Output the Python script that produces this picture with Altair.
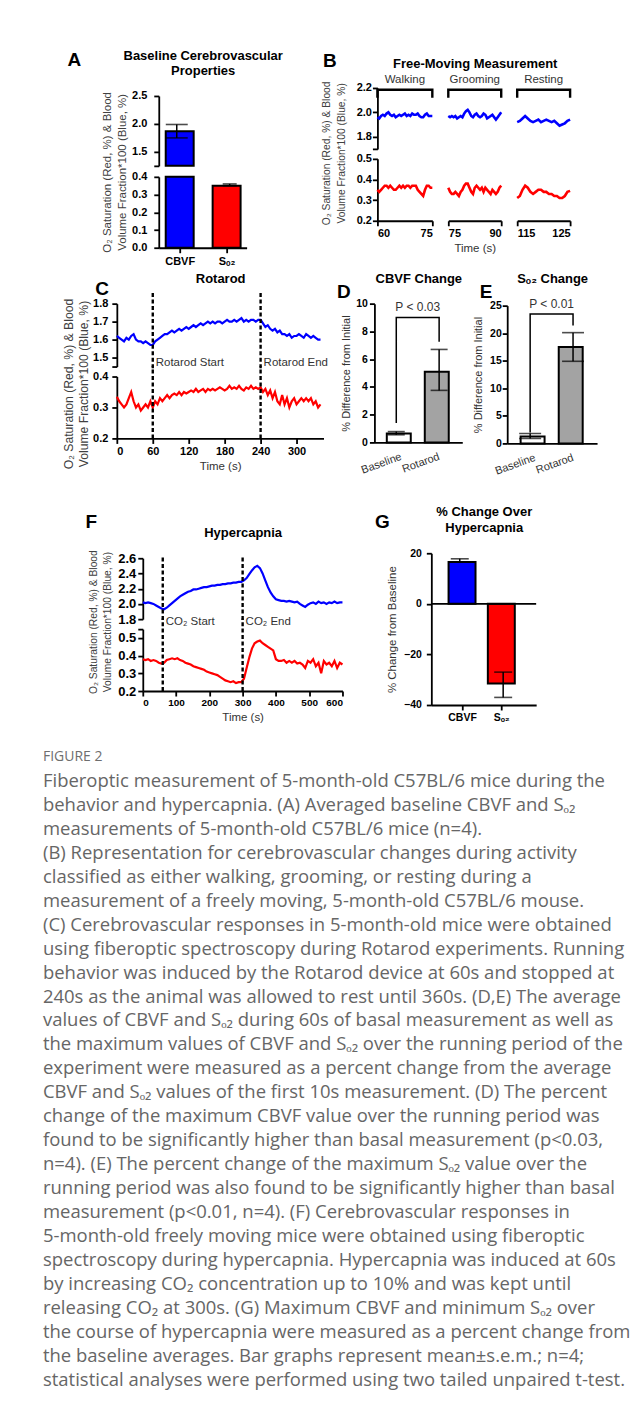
import json
import altair as alt
import pandas as pd

FONT = "Liberation Sans"
CAP_FONT = "Open Sans"
BLUE = "#0000ff"
RED = "#ff0000"
INK = "#000000"
TXT = "#333333"
GREY_BAR = "#a3a3a3"

Y_TITLE = ["O₂ Saturation  (Red, %) & Blood", "Volume  Fraction*100 (Blue, %)"]

# ---------------- Panel A : baseline bars (broken axis)
A_LABELS = ["CBVF", "Sₒ₂"]
A_MEAN = [1.87, 0.35]
A_LO = [1.75, 0.35]
A_HI = [1.99, 0.36]
A_FILL = [BLUE, RED]

# ---------------- Panel B : free-moving traces
B_NAMES = ["Walking", "Grooming", "Resting"]
B_START = [60, 75, 115]
B_END = [75, 90, 125]
B_BLUE = [
    [1.96, 1.95, 1.97, 1.98, 1.97, 1.99, 2.00, 1.98, 1.97, 1.98, 1.96, 1.97, 1.98, 1.97, 1.98, 1.99,
     1.97, 1.98, 1.97, 1.99, 1.98, 1.98, 1.99, 1.97, 1.96, 1.96, 1.98, 1.99, 1.97, 1.97, 1.97],
    [1.97, 1.96, 1.97, 1.96, 1.97, 1.95, 1.96, 1.97, 1.96, 1.99, 2.01, 2.02, 2.00, 1.97, 1.96, 1.98,
     1.99, 1.97, 1.96, 1.97, 1.99, 1.98, 1.95, 1.96, 1.97, 1.98, 1.96, 1.94, 1.96, 1.98, 2.00],
    [1.92, 1.93, 1.95, 1.97, 1.95, 1.93, 1.92, 1.93, 1.94, 1.92, 1.93, 1.94, 1.93, 1.92, 1.93, 1.91,
     1.89, 1.90, 1.91, 1.93, 1.94],
]
B_RED = [
    [0.35, 0.34, 0.35, 0.36, 0.37, 0.37, 0.36, 0.37, 0.36, 0.35, 0.35, 0.36, 0.37, 0.36, 0.37, 0.36,
     0.37, 0.37, 0.36, 0.37, 0.37, 0.37, 0.35, 0.34, 0.33, 0.32, 0.35, 0.37, 0.37, 0.36, 0.36],
    [0.36, 0.34, 0.33, 0.33, 0.34, 0.33, 0.32, 0.34, 0.35, 0.37, 0.38, 0.38, 0.36, 0.34, 0.33, 0.36,
     0.37, 0.36, 0.35, 0.36, 0.34, 0.36, 0.35, 0.34, 0.33, 0.35, 0.34, 0.33, 0.34, 0.36, 0.37],
    [0.31, 0.32, 0.35, 0.37, 0.36, 0.34, 0.33, 0.34, 0.35, 0.35, 0.34, 0.34, 0.33, 0.33, 0.32, 0.32,
     0.31, 0.31, 0.32, 0.34, 0.345],
]
B_TIMES = [[s + 0.5 * k for k in range(int((e - s) * 2) + 1)] for s, e in zip(B_START, B_END)]

# ---------------- Panel C : rotarod traces
C_TIME = list(range(0, 344, 4))
C_BLUE = [
    1.62, 1.61, 1.60, 1.59, 1.61, 1.60, 1.62, 1.63, 1.60, 1.59,
    1.59, 1.58, 1.59, 1.58, 1.57, 1.57, 1.59, 1.60, 1.61, 1.62,
    1.63, 1.63, 1.64, 1.65, 1.64, 1.65, 1.66, 1.65, 1.66, 1.67,
    1.66, 1.67, 1.68, 1.67, 1.68, 1.69, 1.68, 1.69, 1.70, 1.69,
    1.70, 1.69, 1.70, 1.70, 1.69, 1.70, 1.71, 1.70, 1.70, 1.71,
    1.70, 1.71, 1.72, 1.70, 1.71, 1.70, 1.71, 1.71, 1.70, 1.71,
    1.71, 1.69, 1.67, 1.68, 1.66, 1.65, 1.66, 1.64, 1.65, 1.63,
    1.63, 1.62, 1.63, 1.61, 1.62, 1.62, 1.63, 1.62, 1.61, 1.63,
    1.62, 1.61, 1.62, 1.61, 1.60, 1.60,
]
C_RED = [
    0.335, 0.32, 0.31, 0.30, 0.31, 0.33, 0.35, 0.32, 0.30, 0.31,
    0.29, 0.30, 0.31, 0.30, 0.32, 0.30, 0.32, 0.31, 0.33, 0.32,
    0.33, 0.34, 0.33, 0.34, 0.345, 0.34, 0.35, 0.34, 0.35, 0.345,
    0.35, 0.355, 0.35, 0.36, 0.35, 0.355, 0.36, 0.35, 0.36, 0.355,
    0.36, 0.355, 0.36, 0.365, 0.36, 0.355, 0.36, 0.37, 0.36, 0.365,
    0.36, 0.37, 0.36, 0.355, 0.365, 0.36, 0.37, 0.36, 0.365, 0.36,
    0.365, 0.35, 0.36, 0.34, 0.355, 0.33, 0.35, 0.32, 0.31, 0.34,
    0.31, 0.33, 0.30, 0.32, 0.33, 0.31, 0.32, 0.33, 0.32, 0.33,
    0.32, 0.33, 0.31, 0.32, 0.30, 0.31,
]
C_EVENTS = [60, 240]
C_EVENT_LABELS = ["Rotarod Start", "Rotarod End"]
C_XTICKS = [0, 60, 120, 180, 240, 300]

# ---------------- Panels D / E : change bars
DE_LABELS = ["Baseline", "Rotarod"]
DE_FILL = ["#ffffff", GREY_BAR]
D_MEAN = [0.65, 5.1]
D_LO = [0.55, 3.75]
D_HI = [0.78, 6.7]
D_BRACKET = [1.4, 9.0, 9.0, 7.25]
D_P = "P < 0.03"
E_MEAN = [1.27, 17.5]
E_LO = [0.9, 14.9]
E_HI = [1.8, 20.1]
E_BRACKET = [2.0, 23.5, 23.5, 21.4]
E_P = "P < 0.01"

# ---------------- Panel F : hypercapnia traces
F_TIME = list(range(0, 608, 8))
F_BLUE = [
    2.02, 2.01, 2.02, 2.01, 2.00, 1.98, 1.96, 1.94, 1.93, 1.95,
    1.98, 2.01, 2.04, 2.07, 2.10, 2.12, 2.14, 2.16, 2.17, 2.19,
    2.19, 2.20, 2.21, 2.22, 2.22, 2.23, 2.24, 2.24, 2.25, 2.25,
    2.26, 2.26, 2.27, 2.27, 2.28, 2.28, 2.29, 2.29, 2.31, 2.34,
    2.39, 2.44, 2.48, 2.50, 2.47, 2.40, 2.31, 2.22, 2.15, 2.10,
    2.06, 2.05, 2.04, 2.04, 2.03, 2.04, 2.03, 2.02, 2.03, 2.00,
    1.98, 1.96, 1.99, 2.01, 2.02, 2.00, 2.03, 2.01, 2.02, 2.00,
    2.02, 2.01, 2.03, 2.01, 2.02, 2.02,
]
F_RED = [
    0.38, 0.375, 0.38, 0.37, 0.375, 0.37, 0.36, 0.355, 0.36, 0.375,
    0.38, 0.385, 0.38, 0.385, 0.375, 0.37, 0.36, 0.355, 0.35, 0.34,
    0.335, 0.33, 0.325, 0.32, 0.31, 0.305, 0.30, 0.295, 0.29, 0.28,
    0.27, 0.26, 0.255, 0.25, 0.255, 0.245, 0.25, 0.25, 0.27, 0.33,
    0.39, 0.44, 0.47, 0.48, 0.485, 0.47, 0.46, 0.45, 0.44, 0.43,
    0.38, 0.37, 0.37, 0.375, 0.36, 0.37, 0.36, 0.37, 0.355, 0.36,
    0.35, 0.33, 0.37, 0.36, 0.38, 0.34, 0.36, 0.30, 0.37, 0.35,
    0.36, 0.34, 0.37, 0.33, 0.36, 0.35,
]
F_EVENTS = [60, 300]
F_EVENT_LABELS = ["CO₂ Start", "CO₂ End"]
F_XTICKS = [0, 100, 200, 300, 400, 500, 600]

# ---------------- Panel G : % change bars
G_LABELS = ["CBVF", "Sₒ₂"]
G_MEAN = [16.5, -31.5]
G_LO = [16.5, -37.0]
G_HI = [17.8, -27.0]
G_FILL = [BLUE, RED]

# ---------------- Caption
FIG_LABEL = "FIGURE 2"
CAPTION = [
    "Fiberoptic measurement of 5-month-old C57BL/6 mice during the",
    "behavior and hypercapnia. (A) Averaged baseline CBVF and Sₒ₂",
    "measurements of 5-month-old C57BL/6 mice (n=4).",
    "(B) Representation for cerebrovascular changes during activity",
    "classified as either walking, grooming, or resting during a",
    "measurement of a freely moving, 5-month-old C57BL/6 mouse.",
    "(C) Cerebrovascular responses in 5-month-old mice were obtained",
    "using fiberoptic spectroscopy during Rotarod experiments. Running",
    "behavior was induced by the Rotarod device at 60s and stopped at",
    "240s as the animal was allowed to rest until 360s. (D,E) The average",
    "values of CBVF and Sₒ₂ during 60s of basal measurement as well as",
    "the maximum values of CBVF and Sₒ₂ over the running period of the",
    "experiment were measured as a percent change from the average",
    "CBVF and Sₒ₂ values of the first 10s measurement. (D) The percent",
    "change of the maximum CBVF value over the running period was",
    "found to be significantly higher than basal measurement (p<0.03,",
    "n=4). (E) The percent change of the maximum Sₒ₂ value over the",
    "running period was also found to be significantly higher than basal",
    "measurement (p<0.01, n=4). (F) Cerebrovascular responses in",
    "5-month-old freely moving mice were obtained using fiberoptic",
    "spectroscopy during hypercapnia. Hypercapnia was induced at 60s",
    "by increasing CO₂ concentration up to 10% and was kept until",
    "releasing CO₂ at 300s. (G) Maximum CBVF and minimum Sₒ₂ over",
    "the course of hypercapnia were measured as a percent change from",
    "the baseline averages. Bar graphs represent mean±s.e.m.; n=4;",
    "statistical analyses were performed using two tailed unpaired t-test.",
]

# ================= layout geometry (page pixels); view origin sits at page (13, 13)
ORIGIN = 13
W, H = 610, 1385


def vx(p):
    return p - ORIGIN


def vy(p):
    return p - ORIGIN


def sx(dom, x0, x1, **kw):
    return alt.Scale(domain=dom, range=[vx(x0), vx(x1)], nice=False, zero=False, **kw)


def sy(dom, y_bottom, y_top, **kw):
    return alt.Scale(domain=dom, range=[vy(y_bottom), vy(y_top)], nice=False, zero=False, **kw)


def label_expr(fmt, hide=()):
    if hide:
        cond = " || ".join("datum.value == %s" % h for h in hide)
        return "(%s) ? '' : format(datum.value, '%s')" % (cond, fmt)
    return "format(datum.value, '%s')" % fmt


def cat_expr(labels):
    return json.dumps(labels, ensure_ascii=False) + "[datum.value]"


def ax_left(x_page, values, fmt, hide=(), size=11, pad=2, title=None, **kw):
    return alt.Axis(orient="left", offset=-vx(x_page), values=values, labelExpr=label_expr(fmt, hide),
                    title=title, labelFontSize=size, labelPadding=pad, **kw)


def ax_bottom(y_page, values, lab_expr, size=11, title=None, **kw):
    return alt.Axis(orient="bottom", offset=-(H - vy(y_page)), values=values, labelExpr=lab_expr,
                    title=title, labelFontSize=size, **kw)


def ax_top_title(y_page, text, pad, size=13):
    return alt.Axis(orient="top", offset=-vy(y_page), title=text, titlePadding=pad, labels=False,
                    ticks=False, domain=False, minExtent=0, titleFont=FONT, titleFontSize=size,
                    titleFontWeight="bold", titleColor=INK, titleLineHeight=16)


def ax_letter(y_page, ch, x_left, baseline):
    return alt.Axis(orient="top", offset=-vy(y_page), title=ch, labels=False, ticks=False, domain=False,
                    minExtent=0, titleX=vx(x_left), titleY=baseline - y_page, titleAlign="left",
                    titleBaseline="alphabetic", titleAngle=0, titleFont=FONT, titleFontSize=19,
                    titleFontWeight="bold", titleColor=INK)


def ytitle_kw(line1_center, axis_page, center_page, size):
    # first line's outer edge sits at the anchor, the second line follows to its right
    return dict(title=Y_TITLE, titleX=line1_center + 0.5 * size - axis_page, titleY=vy(center_page),
                titleAngle=270, titleAlign="center", titleBaseline="bottom", titleFontSize=size,
                titleLineHeight=15, titleColor="#404040", titleFontWeight="normal")


def bar_layers(df, xs, ys, bar_w, cap_w, x_ax, y_ax, rule_ax=None, tick_ax=None,
               bar_filter=None, err_filter=None):
    def f(ch, flt):
        return ch.transform_filter(flt) if flt else ch
    base = alt.Chart(df)
    bars = f(base.mark_bar(size=bar_w, stroke=INK, strokeWidth=2), bar_filter).encode(
        x=alt.X("pos:Q", scale=xs, axis=x_ax), y=alt.Y("mean:Q", scale=ys, axis=y_ax),
        y2=alt.datum(0), fill=alt.Fill("fill:N", scale=None))
    rule = f(base.mark_rule(color=INK, strokeWidth=1.5), err_filter).encode(
        x=alt.X("pos:Q", scale=xs, axis=rule_ax), y=alt.Y("lo:Q", scale=ys, axis=None), y2="hi:Q")
    cap_hi = f(base.mark_tick(orient="horizontal", size=cap_w, thickness=1.6, color=INK), err_filter).encode(
        x=alt.X("pos:Q", scale=xs, axis=tick_ax), y=alt.Y("hi:Q", scale=ys, axis=None))
    cap_lo = f(base.mark_tick(orient="horizontal", size=cap_w, thickness=1.6, color=INK), err_filter).encode(
        x=alt.X("pos:Q", scale=xs, axis=None), y=alt.Y("lo:Q", scale=ys, axis=None))
    return [bars, rule, cap_hi, cap_lo]


layers = []

# ================= Panel A
a_df = pd.DataFrame({"pos": [0, 1], "mean": A_MEAN, "lo": A_LO, "hi": A_HI, "fill": A_FILL})
xsA = sx([-0.34, 1.32], 159, 247)
ysAU = sy([1.25, 2.5], 165, 95, clamp=True)
ysAL = sy([0, 0.4], 247, 176, clamp=True)
layers += bar_layers(a_df, xsA, ysAU, 28, 22,
                     ax_top_title(95, ["Baseline Cerebrovascular", "Properties"], 18),
                     ax_left(159, [1.25, 1.5, 2.0, 2.5], ".1f", hide=[1.25], pad=7),
                     rule_ax=ax_letter(95, "A", 67, 64),
                     bar_filter="datum.mean > 1.25", err_filter="datum.hi > 1.25")
layers += bar_layers(a_df, xsA, ysAL, 28, 14,
                     ax_bottom(247, [0, 1], cat_expr(A_LABELS), size=11, labelPadding=3),
                     ax_left(159, [0, 0.1, 0.2, 0.3, 0.4], ".1f", pad=7, **ytitle_kw(107, 159, 171, 11.5)),
                     err_filter="datum.hi <= 0.4")

# ================= Panel B
B_X0 = [378, 449, 518]
B_X1 = [433, 502, 571]
ysBU = sy([1.7, 2.2], 148, 87)
ysBL = sy([0.2, 0.5], 220, 158)
for i in range(3):
    s, e = B_START[i], B_END[i]
    xs = sx([s, e], B_X0[i], B_X1[i])
    up_df = pd.DataFrame({"t": B_TIMES[i], "v": B_BLUE[i]})
    low_df = pd.DataFrame({"t": B_TIMES[i], "v": B_RED[i]})
    br_df = pd.DataFrame({"t": [s, s, e, e], "v": [2.12, 2.185, 2.185, 2.12], "o": [0, 1, 2, 3]})
    lab_df = pd.DataFrame({"t": [(s + e) / 2], "v": [2.265], "name": [B_NAMES[i]]})
    up_y_ax = ax_left(378, [1.7, 1.8, 2.0, 2.2], ".1f", hide=[1.7], pad=1) if i == 0 else None
    up_x_ax = ax_top_title(87, "Free-Moving Measurement", 18) if i == 1 else None
    br_x_ax = ax_letter(87, "B", 323, 65) if i == 0 else None
    low_y_ax = (ax_left(378, [0.2, 0.3, 0.4, 0.5], ".1f", pad=1, **ytitle_kw(327, 378, 152, 10.3))
                if i == 0 else None)
    low_x_ax = ax_bottom(220, [s, e], "format(datum.value, 'd')", size=11,
                         title="Time (s)" if i == 1 else None, titleFontSize=11.5, titlePadding=4)
    layers.append(alt.Chart(up_df).mark_line(color=BLUE, strokeWidth=2.6).encode(
        x=alt.X("t:Q", scale=xs, axis=up_x_ax), y=alt.Y("v:Q", scale=ysBU, axis=up_y_ax)))
    layers.append(alt.Chart(br_df).mark_line(color=INK, strokeWidth=2.4).encode(
        x=alt.X("t:Q", scale=xs, axis=br_x_ax), y=alt.Y("v:Q", scale=ysBU, axis=None), order="o:Q"))
    layers.append(alt.Chart(lab_df).mark_text(font=FONT, fontSize=11.5, color=TXT, baseline="middle").encode(
        x=alt.X("t:Q", scale=xs, axis=None), y=alt.Y("v:Q", scale=ysBU, axis=None), text="name:N"))
    layers.append(alt.Chart(low_df).mark_line(color=RED, strokeWidth=2.6).encode(
        x=alt.X("t:Q", scale=xs, axis=low_x_ax), y=alt.Y("v:Q", scale=ysBL, axis=low_y_ax)))


# ================= Panels C and F
def trace_layers(time, blue, red, events, ev_labels, xs, ysU, ysL, up_y_ax, low_y_ax, low_x_ax,
                 title_ax, letter_ax, rule_up, rule_low, lab_y):
    ev_up = pd.DataFrame({"t": events, "v": [rule_up[0]] * 2, "v2": [rule_up[1]] * 2})
    ev_low = pd.DataFrame({"t": events, "v": [rule_low[0]] * 2, "v2": [rule_low[1]] * 2})
    ev_lab = pd.DataFrame({"t": events, "v": [lab_y] * 2, "label": ev_labels})
    return [
        alt.Chart(pd.DataFrame({"t": time, "v": blue})).mark_line(color=BLUE, strokeWidth=2.2).encode(
            x=alt.X("t:Q", scale=xs, axis=title_ax), y=alt.Y("v:Q", scale=ysU, axis=up_y_ax)),
        alt.Chart(ev_up).mark_rule(color=INK, strokeWidth=2.4, strokeDash=[4, 2.5]).encode(
            x=alt.X("t:Q", scale=xs, axis=letter_ax), y=alt.Y("v:Q", scale=ysU, axis=None), y2="v2:Q"),
        alt.Chart(ev_lab).mark_text(align="left", dx=3, baseline="middle", font=FONT, fontSize=11.5,
                                     color=TXT).encode(
            x=alt.X("t:Q", scale=xs, axis=None), y=alt.Y("v:Q", scale=ysU, axis=None), text="label:N"),
        alt.Chart(pd.DataFrame({"t": time, "v": red})).mark_line(color=RED, strokeWidth=2.2).encode(
            x=alt.X("t:Q", scale=xs, axis=low_x_ax), y=alt.Y("v:Q", scale=ysL, axis=low_y_ax)),
        alt.Chart(ev_low).mark_rule(color=INK, strokeWidth=2.4, strokeDash=[4, 2.5]).encode(
            x=alt.X("t:Q", scale=xs, axis=None), y=alt.Y("v:Q", scale=ysL, axis=None), y2="v2:Q"),
    ]


layers += trace_layers(
    C_TIME, C_BLUE, C_RED, C_EVENTS, C_EVENT_LABELS,
    sx([0, 345], 117, 324), sy([1.45, 1.8], 366, 303), sy([0.2, 0.4], 438, 376),
    ax_left(117, [1.45, 1.5, 1.6, 1.7, 1.8], ".1f", hide=[1.45], pad=4),
    ax_left(117, [0.2, 0.3, 0.4], ".1f", pad=4, **ytitle_kw(70, 117, 383, 12.2)),
    ax_bottom(438, C_XTICKS, "format(datum.value, 'd')", size=11, title="Time (s)",
              titleFontSize=11.5, titlePadding=4),
    ax_top_title(303, "Rotarod", 18), ax_letter(303, "C", 95, 294),
    (1.44, 1.872), (0.2, 0.433), 1.467)

layers += trace_layers(
    F_TIME, F_BLUE, F_RED, F_EVENTS, F_EVENT_LABELS,
    sx([0, 600], 143, 343), sy([1.8, 2.6], 619, 558), sy([0.2, 0.55], 691, 629),
    ax_left(143, [1.8, 2.0, 2.2, 2.4, 2.6], ".1f", size=13, pad=2),
    ax_left(143, [0.2, 0.3, 0.4, 0.5, 0.55], ".1f", hide=[0.55], size=13, pad=2,
            **ytitle_kw(93, 143, 621.5, 10.3)),
    ax_bottom(691, F_XTICKS, "format(datum.value, 'd')", size=10, title="Time (s)",
              titleFontSize=11.5, titlePadding=4),
    ax_top_title(558, "Hypercapnia", 19), ax_letter(558, "F", 85, 527),
    (1.79, 2.64), (0.2, 0.61), 1.76)


# ================= Panels D and E
def de_layers(mean, lo, hi, bracket, ptxt, ptop, xs, ys, yticks, x_axis_y, y_axis_x, title_y,
              title, pad, letter_ch, letter_x, letter_base, cap_w, ytitle_pad, lab_pad):
    df = pd.DataFrame({"pos": [0, 1], "mean": mean, "lo": lo, "hi": hi, "fill": DE_FILL})
    x_ax = ax_bottom(x_axis_y, [0, 1], cat_expr(DE_LABELS), size=11, labelAngle=-20, labelAlign="right",
                     labelBaseline="top", ticks=False, labelFontWeight="normal", labelColor=TXT,
                     labelPadding=8)
    y_ax = ax_left(y_axis_x, yticks, "d", size=10.5, pad=lab_pad, title="% Difference from Initial",
                   titleFontSize=11, titlePadding=ytitle_pad)
    out = bar_layers(df, xs, ys, 24, cap_w, x_ax, y_ax,
                     rule_ax=ax_top_title(title_y, title, pad),
                     tick_ax=ax_letter(title_y, letter_ch, letter_x, letter_base))
    br_df = pd.DataFrame({"pos": [0, 0, 1, 1], "v": bracket, "o": [0, 1, 2, 3]})
    p_df = pd.DataFrame({"pos": [0.5], "v": [ptop], "txt": [ptxt]})
    out.append(alt.Chart(br_df).mark_line(color=INK, strokeWidth=1.5).encode(
        x=alt.X("pos:Q", scale=xs, axis=None), y=alt.Y("v:Q", scale=ys, axis=None), order="o:Q"))
    out.append(alt.Chart(p_df).mark_text(font=FONT, fontSize=12, color=TXT, baseline="middle").encode(
        x=alt.X("pos:Q", scale=xs, axis=None), y=alt.Y("v:Q", scale=ys, axis=None), text="txt:N"))
    return out


layers += de_layers(D_MEAN, D_LO, D_HI, D_BRACKET, D_P, 9.75,
                    sx([-0.51, 1.54], 375, 463), sy([0, 10], 442, 303), [0, 2, 4, 6, 8, 10],
                    442, 375, 303, "CBVF Change", 18, "D", 337, 297, 17, 4, 2)
layers += de_layers(E_MEAN, E_LO, E_HI, E_BRACKET, E_P, 25.3,
                    sx([-0.535, 1.56], 508, 598), sy([0, 25], 443, 305), [0, 5, 10, 15, 20, 25],
                    443, 508, 305, "Sₒ₂ Change", 20, "E", 480, 297, 22, 6, 1)

# ================= Panel G
g_df = pd.DataFrame({"pos": [0, 1], "mean": G_MEAN, "lo": G_LO, "hi": G_HI, "fill": G_FILL})
xsG = sx([-0.655, 1.76], 432, 537)
ysG = sy([-40, 20], 705, 553)
layers += bar_layers(g_df, xsG, ysG, 27, 18,
                     ax_bottom(705, [0, 1], cat_expr(G_LABELS), size=10.5, labelPadding=3),
                     ax_left(432, [-40, -20, 0, 20], "d", size=10.5, pad=5, title="% Change from  Baseline",
                             titleFontSize=11.5, titlePadding=6),
                     rule_ax=ax_top_title(553, ["% Change Over", "Hypercapnia"], 19),
                     tick_ax=ax_letter(553, "G", 375, 527))
layers.append(alt.Chart(pd.DataFrame({"z": [0], "x0": [-0.655], "x1": [1.76]})).mark_rule(
    color=INK, strokeWidth=1.8).encode(
    x=alt.X("x0:Q", scale=xsG, axis=None), x2="x1:Q", y=alt.Y("z:Q", scale=ysG, axis=None)))

# ================= Caption
cap_df = pd.DataFrame({"line": list(range(len(CAPTION))), "text": CAPTION})
fig_df = pd.DataFrame({"line": [-1], "text": [FIG_LABEL]})
cy = alt.Y("line:Q", scale=alt.Scale(domain=[-1.5, 25.5], range=[vy(745), vy(1393)], nice=False, zero=False),
           axis=None)
layers.append(alt.Chart(fig_df).mark_text(align="left", baseline="middle", font=CAP_FONT, fontSize=14,
                                          color="#6e6e6e").encode(x=alt.value(vx(43)), y=cy, text="text:N"))
layers.append(alt.Chart(cap_df).mark_text(align="left", baseline="middle", font=CAP_FONT, fontSize=18.5,
                                          color="#666666").encode(
    x=alt.value(vx(43)), y=cy, text="text:N"))

chart = alt.layer(*layers).resolve_scale(x="independent", y="independent").properties(
    width=W, height=H, background="white", padding=5
).configure_view(stroke=None).configure_axis(
    domainColor=INK, domainWidth=1.8, tickColor=INK, tickWidth=1.8, tickSize=5,
    labelFont=FONT, labelFontWeight="bold", labelColor=INK, labelPadding=2, grid=False,
    titleFont=FONT, titleFontWeight="normal", titleColor=TXT, minExtent=0
)

chart.save("out.html", embed_options={"renderer": "svg", "actions": False})
